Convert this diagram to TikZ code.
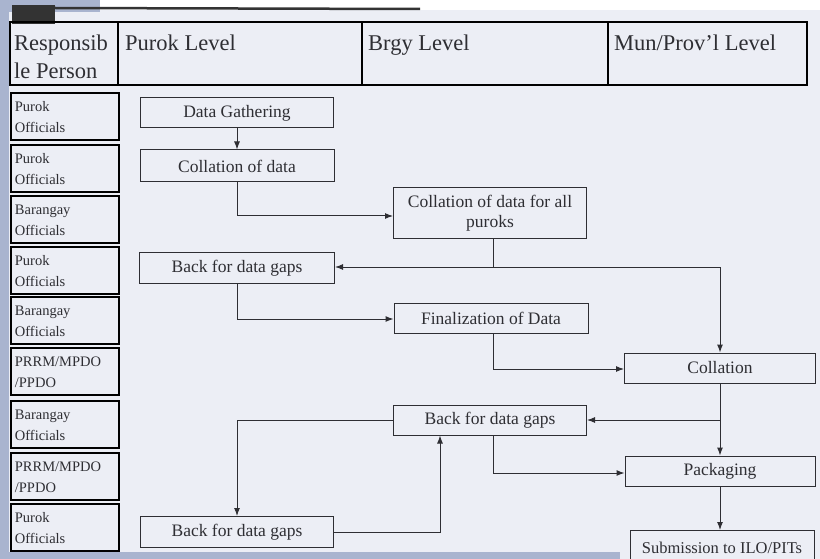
\documentclass[tikz,border=0pt]{standalone}
\usepackage{fontspec}
\setmainfont{Liberation Serif}
\usetikzlibrary{arrows.meta}
\definecolor{paper}{HTML}{ECEEF5}
\definecolor{strip}{HTML}{A9B4CF}
\definecolor{ink}{HTML}{2E2E33}
\tikzset{
  flowbox/.style={draw=ink, line width=1pt, fill=paper, minimum height=30pt, text=ink, font=\fontsize{17.5}{20}\selectfont, align=center, inner sep=0pt},
  rolebox/.style={draw=black, line width=1.8pt, text=ink, font=\fontsize{14.5}{21}\selectfont, align=left, anchor=north west, minimum width=108pt, minimum height=47pt, inner xsep=4pt, inner ysep=3pt, text width=100pt, text height=11pt},
  headtxt/.style={text=ink, font=\fontsize{22.5}{28}\selectfont, anchor=north west, align=left, inner sep=0pt},
  conn/.style={draw=ink, line width=1pt},
  arr/.style={conn, -{Latex[length=8pt,width=6pt]}}
}
\begin{document}
\begin{tikzpicture}[x=1pt,y=-1pt]
\useasboundingbox (0,0) rectangle (820,559);
\fill[paper] (0,0) rectangle (820,559);
\fill[white] (100,0) rectangle (820,10);
\fill[strip] (0,0) rectangle (100,12);
\fill[strip] (0,0) rectangle (9,559);
\fill[strip] (0,552) rectangle (620,559);
\fill[black!80] (12,5) rectangle (55,24);
\draw[black!80, line width=2.5pt] (55,8) -- (420,9);
% header table
\draw[black, line width=2pt] (10,22) rectangle (807,85);
\draw[black, line width=1.5pt] (118,22) -- (118,85);
\draw[black, line width=1.5pt] (362,22) -- (362,85);
\draw[black, line width=1.5pt] (608,22) -- (608,85);
\node[headtxt] (hresp) at (14,35) {Responsib\\le Person};
\node[headtxt] (hpurok) at (125,35) {Purok Level};
\node[headtxt] (hbrgy) at (368,35) {Brgy Level};
\node[headtxt] (hmun) at (614,35) {Mun/Prov'l Level};
% role boxes
\node[rolebox] (r1) at (10,92) {Purok\\Officials};
\node[rolebox] (r2) at (10,144) {Purok\\Officials};
\node[rolebox] (r3) at (10,195) {Barangay\\Officials};
\node[rolebox] (r4) at (10,246) {Purok\\Officials};
\node[rolebox] (r5) at (10,296) {Barangay\\Officials};
\node[rolebox] (r6) at (10,347) {PRRM/MPDO\\/PPDO};
\node[rolebox] (r7) at (10,400) {Barangay\\Officials};
\node[rolebox] (r8) at (10,452) {PRRM/MPDO\\/PPDO};
\node[rolebox] (r9) at (10,503) {Purok\\Officials};
% flow boxes
\node[flowbox, minimum width=193pt] (dg) at (237,113) {Data Gathering};
\node[flowbox, minimum width=194pt, minimum height=32pt] (cd) at (237,166) {Collation of data};
\node[flowbox, minimum width=193pt, minimum height=51pt] (ca) at (490,213) {Collation of data for all\\puroks};
\node[flowbox, minimum width=195pt, minimum height=31pt] (b1) at (237,268) {Back for data gaps};
\node[flowbox, minimum width=194pt] (fd) at (491,318) {Finalization of Data};
\node[flowbox, minimum width=191pt] (col) at (720,368) {Collation};
\node[flowbox, minimum width=193pt] (b2) at (490,420) {Back for data gaps};
\node[flowbox, minimum width=190pt] (pk) at (720,471) {Packaging};
\node[flowbox, minimum width=184pt, anchor=north, minimum height=34pt, font=\fontsize{16.5}{19}\selectfont] (sub) at (722,530) {Submission to ILO/PITs};
\node[flowbox, minimum width=193pt, minimum height=31pt] (b3) at (237,532) {Back for data gaps};
% connectors
\coordinate (caj) at (493,267);
\coordinate (colj) at (720,420);
\draw[arr] (dg.south) -- (cd.north);
\draw[arr] (cd.south) |- (ca.west |- 0,216);
\draw[conn] (ca.south -| caj) -- (caj);
\draw[arr] (caj) -- (b1.east |- caj);
\draw[arr] (caj) -| (col.north);
\draw[arr] (b1.south) |- (fd.west |- 0,319);
\draw[arr] (fd.south -| caj) |- (col.west |- 0,369);
\draw[arr] (col.south) -- (pk.north);
\draw[arr] (colj) -- (b2.east |- colj);
\draw[arr] (b2.west) -| (b3.north);
\draw[arr] (b2.south -| caj) |- (pk.west |- 0,473);
\draw[arr] (b3.east) -| (b2.south -| 440,0);
\draw[arr] (pk.south) -- (sub.north -| pk.south);
\end{tikzpicture}
\end{document}
